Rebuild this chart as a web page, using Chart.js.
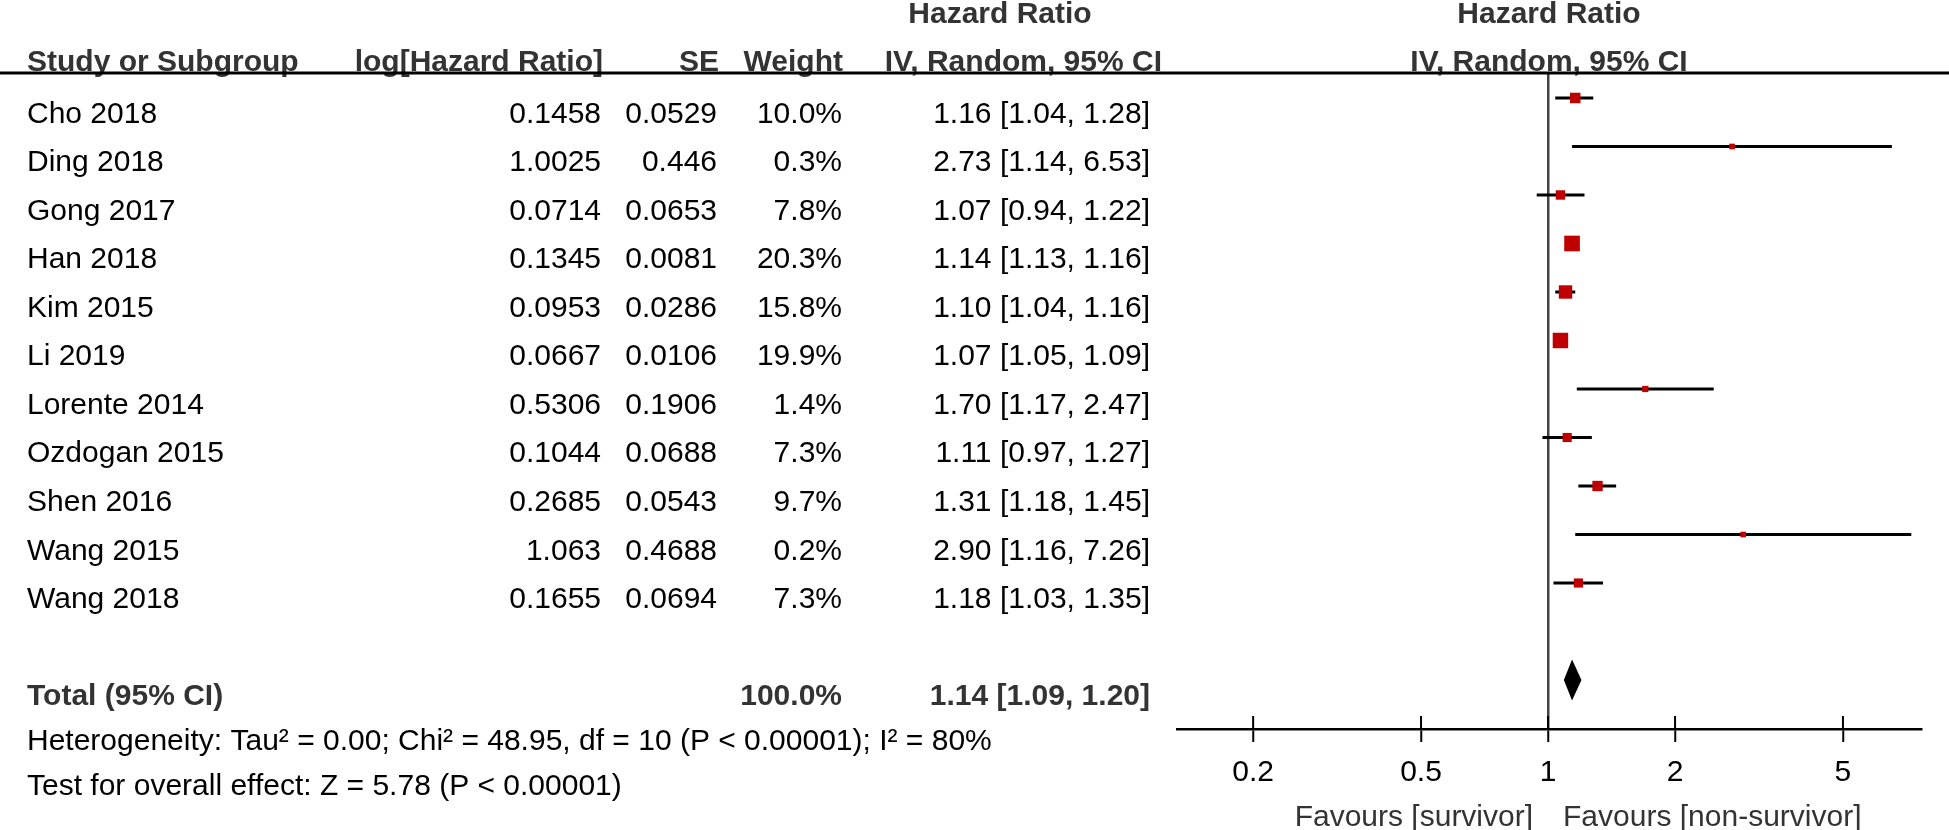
<!DOCTYPE html>
<html>
<head>
<meta charset="utf-8">
<script src="https://cdn.jsdelivr.net/npm/chart.js@4.4.0/dist/chart.umd.min.js"></script>
<style>
  html, body { margin: 0; padding: 0; background: #fff; }
  #wrap { width: 1949px; height: 830px; }
</style>
</head>
<body>
<div id="wrap"><canvas id="forest" width="1949" height="830"></canvas></div>
<script>
// ========== Data ==========
const studies = ['Cho 2018', 'Ding 2018', 'Gong 2017', 'Han 2018', 'Kim 2015', 'Li 2019',
  'Lorente 2014', 'Ozdogan 2015', 'Shen 2016', 'Wang 2015', 'Wang 2018'];
const logHR   = [0.1458, 1.0025, 0.0714, 0.1345, 0.0953, 0.0667, 0.5306, 0.1044, 0.2685, 1.063, 0.1655];
const se      = [0.0529, 0.446, 0.0653, 0.0081, 0.0286, 0.0106, 0.1906, 0.0688, 0.0543, 0.4688, 0.0694];
const weights = [10.0, 0.3, 7.8, 20.3, 15.8, 19.9, 1.4, 7.3, 9.7, 0.2, 7.3];
const hr      = [1.16, 2.73, 1.07, 1.14, 1.10, 1.07, 1.70, 1.11, 1.31, 2.90, 1.18];
const lo      = [1.04, 1.14, 0.94, 1.13, 1.04, 1.05, 1.17, 0.97, 1.18, 1.16, 1.03];
const hi      = [1.28, 6.53, 1.22, 1.16, 1.16, 1.09, 2.47, 1.27, 1.45, 7.26, 1.35];

const totalWeight = 100.0;
const totalHr = 1.14, totalLo = 1.09, totalHi = 1.20;

const tickValues = [0.2, 0.5, 1, 2, 5];

const heterogeneityText = 'Heterogeneity: Tau\u00B2 = 0.00; Chi\u00B2 = 48.95, df = 10 (P < 0.00001); I\u00B2 = 80%';
const overallText = 'Test for overall effect: Z = 5.78 (P < 0.00001)';
const favoursLeft = 'Favours [survivor]';
const favoursRight = 'Favours [non-survivor]';

// ========== Layout ==========
const FONT = '"Liberation Sans", Arial, Helvetica, sans-serif';
const TOTAL_ROW = studies.length + 1;
const TEXT_DROP = 25;          // text baseline sits below the plot row
const HEAD = '#333';

Chart.defaults.font.family = FONT;

function markerSide(w) { return 5.5 + 0.5 * w; }
function fmt2(v) { return v.toFixed(2); }
function ciLabel(h, l, u) { return `${fmt2(h)} [${fmt2(l)}, ${fmt2(u)}]`; }

// CI segments, separated by gaps
const ciData = [];
studies.forEach((s, i) => {
  ciData.push({ x: lo[i], y: i }, { x: hi[i], y: i }, { x: NaN, y: null });
});

// ========== Plugins ==========
const tablePlugin = {
  id: 'table',
  afterDraw(chart) {
    const ctx = chart.ctx;
    const xs = chart.scales.x, ys = chart.scales.y;
    const area = chart.chartArea;
    const mid = (area.left + area.right) / 2;
    ctx.save();

    // header
    ctx.fillStyle = HEAD;
    ctx.font = `bold 30px ${FONT}`;
    ctx.textBaseline = 'alphabetic';
    ctx.textAlign = 'center';
    ctx.fillText('Hazard Ratio', 1000, 23);
    ctx.fillText('Hazard Ratio', mid, 23);
    ctx.fillText('IV, Random, 95% CI', mid, 71);
    ctx.textAlign = 'left';
    ctx.fillText('Study or Subgroup', 27, 71);
    ctx.textAlign = 'right';
    ctx.fillText('log[Hazard Ratio]', 603, 71);
    ctx.fillText('SE', 719, 71);
    ctx.fillText('Weight', 843, 71);
    ctx.fillText('IV, Random, 95% CI', 1162, 71);

    // header rule
    ctx.strokeStyle = '#000';
    ctx.lineWidth = 3;
    ctx.beginPath();
    ctx.moveTo(0, area.top);
    ctx.lineTo(chart.width, area.top);
    ctx.stroke();

    // study rows
    ctx.fillStyle = '#000';
    ctx.font = `30px ${FONT}`;
    studies.forEach((s, i) => {
      const y = ys.getPixelForValue(i) + TEXT_DROP;
      ctx.textAlign = 'left';
      ctx.fillText(s, 27, y);
      ctx.textAlign = 'right';
      ctx.fillText(String(logHR[i]), 601, y);
      ctx.fillText(String(se[i]), 717, y);
      ctx.fillText(weights[i].toFixed(1) + '%', 842, y);
      ctx.fillText(ciLabel(hr[i], lo[i], hi[i]), 1150, y);
    });

    // total row
    const ty = ys.getPixelForValue(TOTAL_ROW) + TEXT_DROP;
    ctx.fillStyle = HEAD;
    ctx.font = `bold 30px ${FONT}`;
    ctx.textAlign = 'left';
    ctx.fillText('Total (95% CI)', 27, ty);
    ctx.textAlign = 'right';
    ctx.fillText(totalWeight.toFixed(1) + '%', 842, ty);
    ctx.fillText(ciLabel(totalHr, totalLo, totalHi), 1150, ty);

    // footnotes
    ctx.fillStyle = '#000';
    ctx.font = `30px ${FONT}`;
    ctx.textAlign = 'left';
    ctx.fillText(heterogeneityText, 27, ty + 45);
    ctx.fillText(overallText, 27, ty + 90);

    // favours labels
    const x1 = xs.getPixelForValue(1);
    ctx.fillStyle = HEAD;
    ctx.textAlign = 'right';
    ctx.fillText(favoursLeft, x1 - 15, 826);
    ctx.textAlign = 'left';
    ctx.fillText(favoursRight, x1 + 15, 826);

    // upper half of axis ticks
    ctx.strokeStyle = '#000';
    ctx.lineWidth = 2;
    xs.ticks.forEach(t => {
      const px = xs.getPixelForValue(t.value);
      ctx.beginPath();
      ctx.moveTo(px, area.bottom - 13);
      ctx.lineTo(px, area.bottom);
      ctx.stroke();
    });
    ctx.restore();
  }
};

const diamondPlugin = {
  id: 'diamond',
  afterDatasetsDraw(chart) {
    const ctx = chart.ctx;
    const xs = chart.scales.x, ys = chart.scales.y;
    const yc = ys.getPixelForValue(TOTAL_ROW);
    const h = 20.5;
    ctx.save();
    ctx.fillStyle = '#000';
    ctx.beginPath();
    ctx.moveTo(xs.getPixelForValue(totalLo), yc);
    ctx.lineTo(xs.getPixelForValue(totalHr), yc - h);
    ctx.lineTo(xs.getPixelForValue(totalHi), yc);
    ctx.lineTo(xs.getPixelForValue(totalHr), yc + h);
    ctx.closePath();
    ctx.fill();
    ctx.restore();
  }
};

// ========== Chart ==========
new Chart(document.getElementById('forest').getContext('2d'), {
  type: 'scatter',
  data: {
    datasets: [
      {
        label: 'HR',
        data: studies.map((s, i) => ({ x: hr[i], y: i })),
        pointStyle: 'rect',
        pointRadius: ctx => markerSide(weights[ctx.dataIndex]) / Math.SQRT2,
        pointHoverRadius: ctx => markerSide(weights[ctx.dataIndex]) / Math.SQRT2,
        backgroundColor: '#c00000',
        borderWidth: 0
      },
      {
        label: 'CI',
        type: 'line',
        data: ciData,
        borderColor: '#000',
        borderWidth: 3,
        pointRadius: 0,
        spanGaps: false,
        fill: false
      }
    ]
  },
  options: {
    responsive: false,
    animation: false,
    devicePixelRatio: 1,
    layout: { padding: { left: 1177, right: 28, top: 73, bottom: 0 } },
    plugins: { legend: { display: false }, tooltip: { enabled: false } },
    scales: {
      x: {
        type: 'logarithmic',
        min: 0.132,
        max: 7.655,
        afterBuildTicks: s => { s.ticks = tickValues.map(v => ({ value: v })); },
        afterFit: s => { s.height = 101; },
        ticks: {
          autoSkip: false,
          maxRotation: 0,
          padding: 13,
          color: '#000',
          font: { size: 30 },
          callback: v => String(v)
        },
        grid: {
          drawOnChartArea: true,
          color: c => (c.tick && c.tick.value === 1 ? '#444' : 'rgba(0,0,0,0)'),
          lineWidth: 2.5,
          tickColor: '#000',
          tickWidth: 2,
          tickLength: 13
        },
        border: { display: true, color: '#000', width: 2.5 }
      },
      y: {
        type: 'linear',
        display: false,
        reverse: true,
        min: -0.515,
        max: 13.01
      }
    }
  },
  plugins: [diamondPlugin, tablePlugin]
});
</script>
</body>
</html>
